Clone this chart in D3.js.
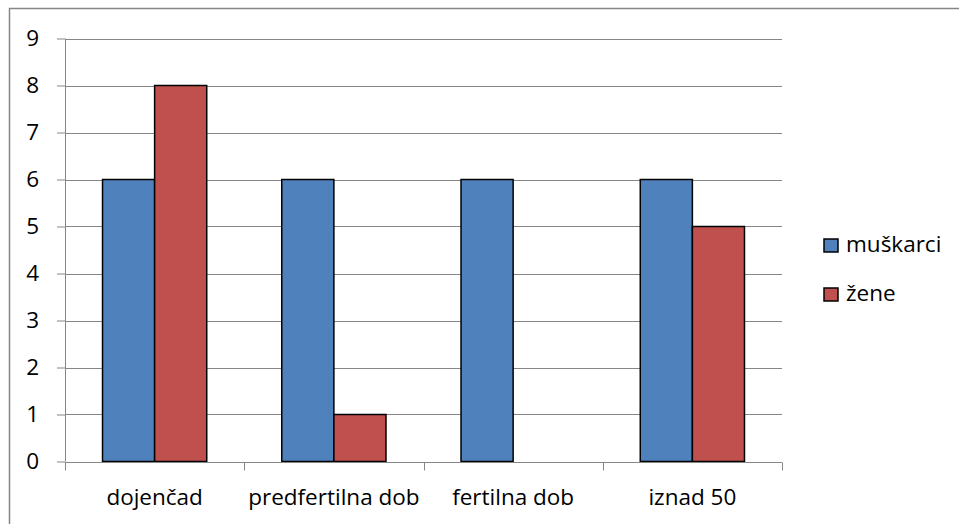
<!DOCTYPE html>
<html>
<head>
<meta charset="utf-8">
<script src="https://cdn.jsdelivr.net/npm/d3@7"></script>
<style>
  html, body { margin: 0; padding: 0; background: #fff; }
  svg { display: block; }
  text { font-family: "Open Sans", "Noto Sans", sans-serif; fill: #000; }
</style>
</head>
<body>
<svg id="chart" width="959" height="524"></svg>
<script>
const categories = ["dojenčad", "predfertilna dob", "fertilna dob", "iznad 50"];
const seriesNames = ["muškarci", "žene"];
const muskarci = [6, 6, 6, 6];
const zene = [8, 1, 0, 5];
const yTicks = [0, 1, 2, 3, 4, 5, 6, 7, 8, 9];
const colors = ["#4F81BD", "#C0504D"];

const FS = "22.5px";
const svg = d3.select("#chart");
const W = 959, H = 524;
const plot = { left: 65, right: 782, top: 38.5, bottom: 461.5 };

// outer border
svg.append("rect")
  .attr("x", 9.5).attr("y", 8.5)
  .attr("width", W).attr("height", H)
  .attr("fill", "none").attr("stroke", "#868686").attr("stroke-width", 1.5);

const x0 = d3.scaleBand().domain(categories).range([plot.left, plot.right]).paddingInner(0).paddingOuter(0);
const x1 = d3.scaleBand().domain(seriesNames).range([0, x0.bandwidth()]).paddingInner(0).paddingOuter(0.72);
const y = d3.scaleLinear().domain([0, 9]).range([plot.bottom, plot.top]);

// gridlines
svg.append("g").selectAll("line").data(yTicks.filter(d => d > 0)).join("line")
  .attr("x1", plot.left).attr("x2", plot.right)
  .attr("y1", d => Math.round(y(d)) + 0.5).attr("y2", d => Math.round(y(d)) + 0.5)
  .attr("stroke", "#868686").attr("stroke-width", 1);

// bars
const data = categories.map((c, i) => ({ cat: c, vals: [muskarci[i], zene[i]] }));
const g = svg.append("g").selectAll("g").data(data).join("g")
  .attr("transform", d => `translate(${x0(d.cat)},0)`);
g.selectAll("rect").data(d => d.vals.map((v, j) => ({ v, s: seriesNames[j], j })).filter(e => e.v > 0)).join("rect")
  .attr("x", d => x1(d.s))
  .attr("y", d => y(d.v))
  .attr("width", x1.bandwidth())
  .attr("height", d => y(0) - y(d.v))
  .attr("fill", d => colors[d.j])
  .attr("stroke", "#000").attr("stroke-width", 1.5);

// y axis
const yAxis = d3.axisLeft(y).tickValues(yTicks).tickSize(8).tickPadding(18).tickFormat(d3.format("d"));
const ya = svg.append("g").attr("transform", `translate(${plot.left},0)`).call(yAxis);
ya.select(".domain").attr("stroke", "#868686").attr("d", `M0.5,${plot.top}V${plot.bottom}`);
ya.selectAll(".tick line").attr("stroke", "#868686");
ya.selectAll(".tick text").style("font-size", FS).style("font-family", '"Open Sans", "Noto Sans", sans-serif').attr("fill", "#000");

// x axis
const xa = svg.append("g").attr("transform", `translate(0,${Math.round(y(0)) + 0.5})`);
xa.append("line").attr("x1", plot.left).attr("x2", plot.right).attr("y1", 0).attr("y2", 0).attr("stroke", "#868686");
const bounds = categories.map(c => x0(c)).concat([plot.right]);
xa.selectAll("line.tk").data(bounds).join("line").attr("class", "tk")
  .attr("x1", d => Math.round(d) + 0.5).attr("x2", d => Math.round(d) + 0.5)
  .attr("y1", 0).attr("y2", 8).attr("stroke", "#868686");
xa.selectAll("text").data(categories).join("text")
  .attr("x", d => x0(d) + x0.bandwidth() / 2)
  .attr("y", 42)
  .attr("text-anchor", "middle")
  .style("font-size", FS)
  .text(d => d);

// legend
const lg = svg.append("g").selectAll("g").data(seriesNames).join("g")
  .attr("transform", (d, i) => `translate(824,${239 + i * 49})`);
lg.append("rect").attr("width", 14).attr("height", 13)
  .attr("fill", (d, i) => colors[i]).attr("stroke", "#000").attr("stroke-width", 1.5);
lg.append("text").attr("x", 22).attr("y", 13).style("font-size", FS).text(d => d);
</script>
</body>
</html>
